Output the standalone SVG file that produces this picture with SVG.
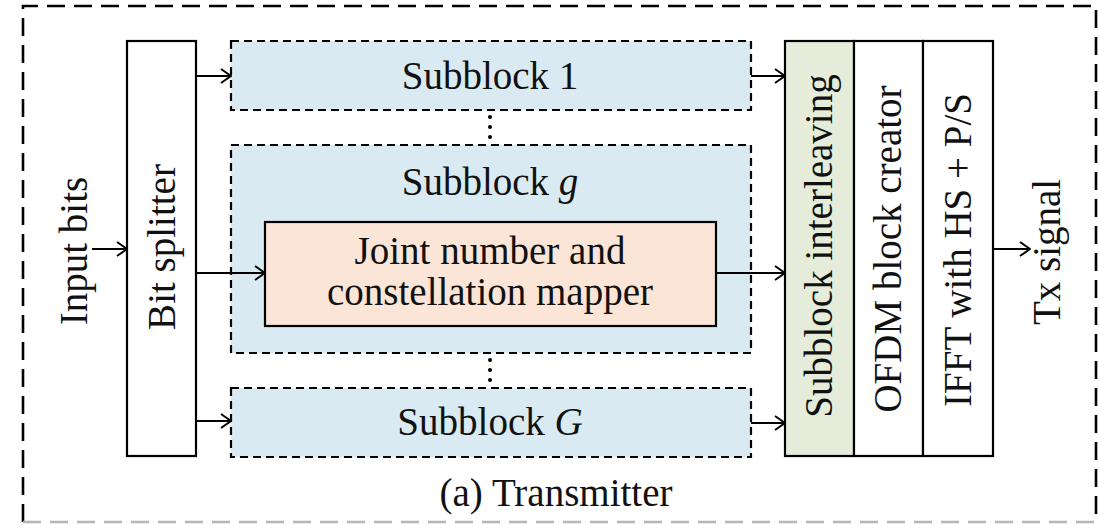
<svg xmlns="http://www.w3.org/2000/svg" width="1099" height="525" viewBox="0 0 1099 525">
<defs>
<marker id="arr" markerUnits="userSpaceOnUse" viewBox="0 0 12 16" refX="11" refY="8" markerWidth="12" markerHeight="16" orient="auto">
<path d="M1,1 L11,8 L1,15" fill="none" stroke="#000" stroke-width="2"/>
</marker>
</defs>
<style>
text{font-family:"Liberation Serif","Times New Roman",serif;font-size:39px;fill:#111;}
.solid{stroke:#000;stroke-width:2.2;}
.sub{fill:#daeaf2;stroke:#000;stroke-width:2.2;stroke-dasharray:8 5;}
.conn line{stroke:#000;stroke-width:2;marker-end:url(#arr);}
</style>
<rect width="1099" height="525" fill="#fff"/>
<g id="frame">
<path d="M23,522 V6 H1096 V522" fill="none" stroke="#000" stroke-width="2.6" stroke-dasharray="18 9"/>
<line x1="23" y1="522" x2="1096" y2="522" stroke="#b5b5b5" stroke-width="2.6" stroke-dasharray="18 9"/>
<text x="556" y="506" text-anchor="middle">(a) Transmitter</text>
</g>
<g id="input-label">
<text transform="translate(87,251) rotate(-90)" text-anchor="middle">Input bits</text>
</g>
<g id="bit-splitter">
<rect class="solid" x="127" y="41" width="69" height="415" fill="#fff"/>
<text transform="translate(175,247) rotate(-90)" text-anchor="middle">Bit splitter</text>
</g>
<g id="subblock-1">
<rect class="sub" x="231" y="41" width="520" height="69"/>
<text x="490" y="89" text-anchor="middle">Subblock 1</text>
</g>
<g id="subblock-g">
<rect class="sub" x="231" y="145" width="520" height="208"/>
<text x="490" y="195" text-anchor="middle">Subblock <tspan font-style="italic">g</tspan></text>
</g>
<g id="mapper">
<rect class="solid" x="265" y="222" width="451" height="104" fill="#fbe5d6"/>
<text x="490" y="264" text-anchor="middle">Joint number and</text>
<text x="490" y="305" text-anchor="middle">constellation mapper</text>
</g>
<g id="subblock-G">
<rect class="sub" x="231" y="388" width="520" height="69"/>
<text x="490" y="435" text-anchor="middle">Subblock <tspan font-style="italic">G</tspan></text>
</g>
<g id="dots" fill="#000">
<circle cx="490" cy="117" r="2"/><circle cx="490" cy="127" r="2"/><circle cx="490" cy="137" r="2"/>
<circle cx="490" cy="360" r="2"/><circle cx="490" cy="370" r="2"/><circle cx="490" cy="380" r="2"/>
</g>
<g id="interleaving">
<rect class="solid" x="785" y="41" width="69" height="415" fill="#e5edda"/>
<text transform="translate(832,246) rotate(-90)" text-anchor="middle">Subblock interleaving</text>
</g>
<g id="ofdm-creator">
<rect class="solid" x="854" y="41" width="69" height="415" fill="#fff"/>
<text transform="translate(901,249) rotate(-90)" text-anchor="middle">OFDM block creator</text>
</g>
<g id="ifft">
<rect class="solid" x="923" y="41" width="70" height="415" fill="#fff"/>
<text transform="translate(971,250) rotate(-90)" text-anchor="middle">IFFT with HS + P/S</text>
</g>
<g id="tx-label">
<text transform="translate(1060,252) rotate(-90)" text-anchor="middle">Tx signal</text>
</g>
<g id="connectors" class="conn">
<line x1="92" y1="249" x2="127" y2="249"/>
<line x1="196" y1="76" x2="231" y2="76"/>
<line x1="196" y1="273" x2="265" y2="273"/>
<line x1="196" y1="421" x2="231" y2="421"/>
<line x1="751" y1="76" x2="785" y2="76"/>
<line x1="716" y1="273" x2="785" y2="273"/>
<line x1="751" y1="423" x2="785" y2="423"/>
<line x1="993" y1="249" x2="1030" y2="249"/>
</g>
</svg>
